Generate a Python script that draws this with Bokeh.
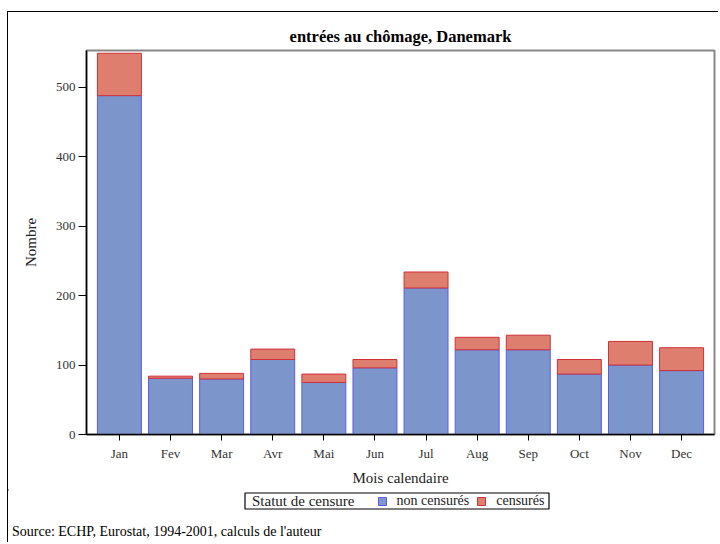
from bokeh.plotting import figure
from bokeh.layouts import column
from bokeh.models import FactorRange, Range1d, Legend, LegendItem, Label, FixedTicker
from bokeh.core.properties import value
from bokeh.embed import file_html
from bokeh.resources import INLINE

months = ["Jan", "Fev", "Mar", "Avr", "Mai", "Jun", "Jul", "Aug", "Sep", "Oct", "Nov", "Dec"]
non_censures = [488, 81, 80, 108, 75, 96, 211, 122, 122, 87, 100, 92]
censures = [61, 3, 8, 15, 12, 12, 23, 18, 21, 21, 34, 33]
y_ticks = [0, 100, 200, 300, 400, 500]
series_labels = ["non censurés", "censurés"]
fill_colors = ["#7C95CA", "#DE7E6F"]
line_colors = ["#5b5bef", "#d0303a"]

FONT = "Liberation Serif"
W = 710

p = figure(
    frame_width=628, frame_height=384,
    x_range=FactorRange(factors=months, range_padding=0.024),
    y_range=Range1d(0, 553),
    output_backend="svg", toolbar_location=None,
    min_border_left=78, min_border_right=4, min_border_top=38, min_border_bottom=55,
)
p.frame_align = False
p.title.text = "entrées au chômage, Danemark"
p.title.align = "center"
p.title.text_font = FONT
p.title.text_font_size = "16.5px"
p.title.text_font_style = "bold"
p.title.text_color = "black"

src = dict(month=months, nc=non_censures, c=censures)
rs = p.vbar_stack(["nc", "c"], x="month", width=0.86, source=src,
                  fill_color=fill_colors, line_color=line_colors, line_width=1)

p.xgrid.visible = False
p.ygrid.visible = False
p.outline_line_color = "#888888"
p.outline_line_width = 2

for ax in (p.xaxis, p.yaxis):
    ax.major_label_text_font = FONT
    ax.major_label_text_font_size = "13px"
    ax.major_label_text_color = "#333333"
    ax.axis_label_text_font = FONT
    ax.axis_label_text_font_size = "15px"
    ax.axis_label_text_font_style = "normal"
    ax.axis_label_text_color = "#222222"
    ax.axis_line_color = "black"
    ax.axis_line_width = 1.5
    ax.major_tick_line_color = "black"
    ax.minor_tick_line_color = None
    ax.major_tick_in = 0

p.yaxis.ticker = FixedTicker(ticks=y_ticks)
p.yaxis.major_tick_out = 8
p.yaxis.major_label_standoff = 3
p.yaxis.axis_label = "Nombre"
p.yaxis.axis_label_standoff = 14
p.xaxis.major_tick_out = 6
p.xaxis.major_label_standoff = 5
p.xaxis.axis_label = "Mois calendaire"
p.xaxis.axis_label_standoff = 6

# ---- footer: legend + source (pixel coordinates, y downward) ----
H2 = 53
p2 = figure(width=W, height=H2, x_range=Range1d(0, W), y_range=Range1d(H2, 0),
            output_backend="svg", toolbar_location=None,
            x_axis_location=None, y_axis_location=None,
            min_border=0, min_border_left=0, min_border_right=0,
            min_border_top=0, min_border_bottom=0)
p2.frame_align = False
p2.outline_line_color = None
p2.xgrid.visible = False
p2.ygrid.visible = False

# legend frame
p2.quad(left=[236.5], right=[540.5], top=[3.5], bottom=[19.5],
        fill_color=None, line_color="black", line_width=1.2)
p2.text(x=[243.5], y=[11.5], text=["Statut de censure"],
        text_font=value(FONT), text_font_size="15px", text_color="#222222",
        text_baseline="middle", text_align="left")

# legend key renderers: one point placed off-canvas so only the legend swatch shows
keys = [p2.vbar(x=[-500], top=[0], bottom=[1], width=1, fill_color=fc, line_color=lc, line_width=1)
        for fc, lc in zip(fill_colors, line_colors)]
legend = Legend(
    items=[LegendItem(label=lab, renderers=[r]) for lab, r in zip(series_labels, keys)],
    orientation="horizontal", location=(368.5, 33.5),
    label_text_font=FONT, label_text_font_size="14px", label_text_color="#222222",
    glyph_width=10, glyph_height=10, label_standoff=10, spacing=7,
    padding=0, margin=0, border_line_color=None, background_fill_alpha=0,
    label_height=14,
)
p2.add_layout(legend, "center")

p2.add_layout(Label(text="Source: ECHP, Eurostat, 1994-2001, calculs de l'auteur",
                    x=3.5, y=41.5, text_font=FONT, text_font_size="14px",
                    text_color="black", text_baseline="middle"))

layout = column(p, p2, spacing=0,
                styles={"border-top": "1.5px solid black", "border-left": "1.5px solid black",
                        "margin-top": "11px", "margin-left": "7px"})

open("out.html", "w").write(file_html(layout, INLINE))
